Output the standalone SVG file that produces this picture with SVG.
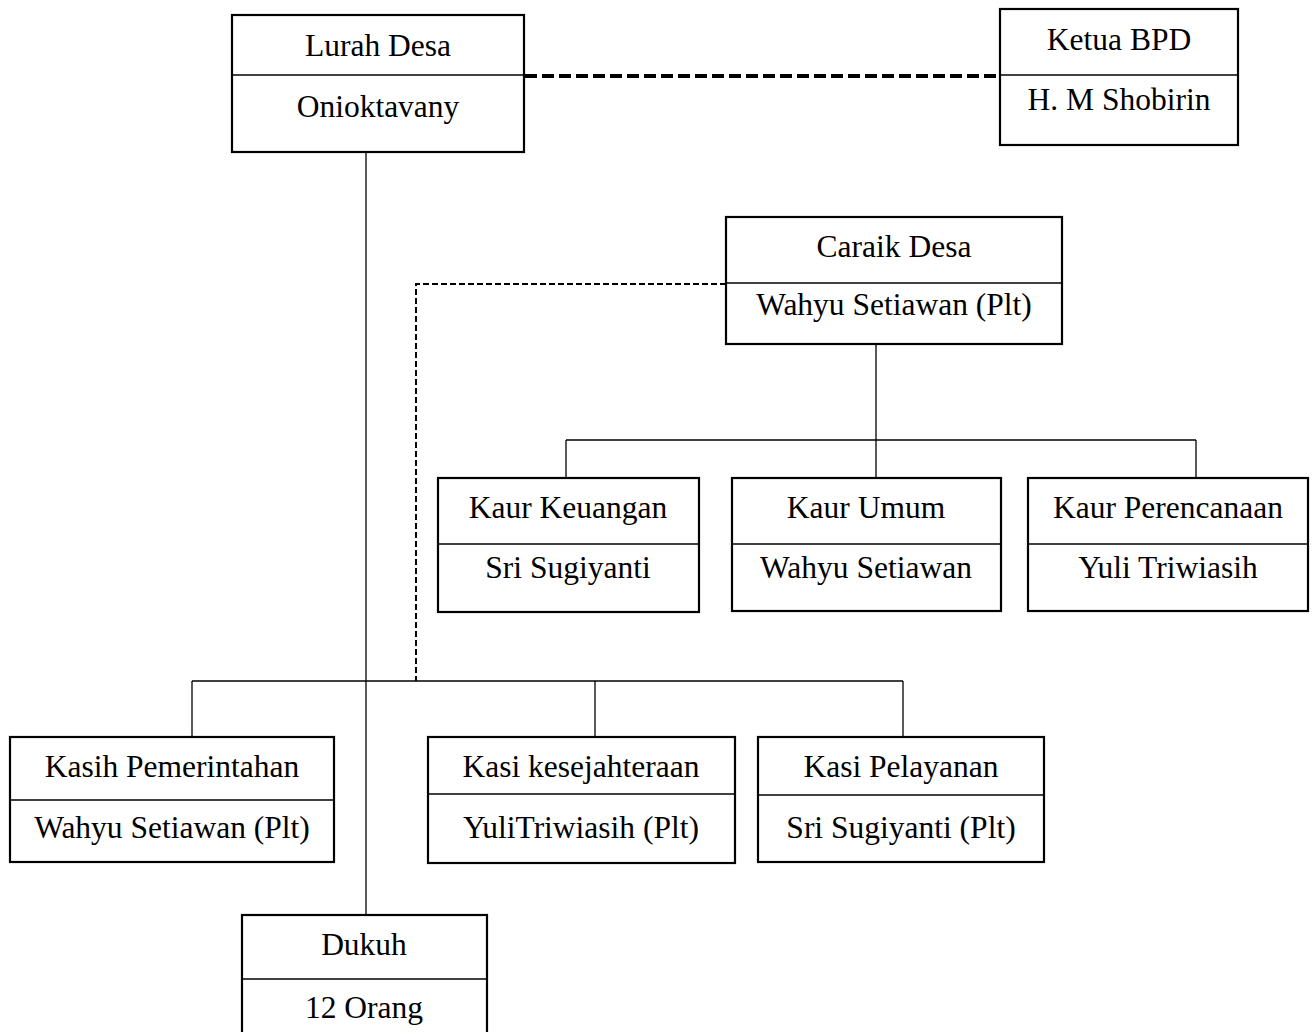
<svg xmlns="http://www.w3.org/2000/svg" width="1314" height="1032" viewBox="0 0 1314 1032">
<style>
.box{fill:#fff;stroke:#000;stroke-width:2.2}
.div{stroke:#000;stroke-width:1.3}
.t{font-family:"Liberation Serif","Times New Roman",serif;font-size:31.5px;fill:#000;text-anchor:middle}
.c{fill:none;stroke:#000;stroke-width:1.3}
.d1{fill:none;stroke:#000;stroke-width:4;stroke-dasharray:12 5}
.d2{fill:none;stroke:#000;stroke-width:2;stroke-dasharray:6 3}
</style>
<rect width="1314" height="1032" fill="#fff"/>
<g id="connectors">
<line class="d1" x1="525" y1="76" x2="999" y2="76"/>
<path class="d2" d="M726,284 H416 V681"/>
<line class="c" x1="366" y1="152" x2="366" y2="915"/>
<line class="c" x1="876" y1="344" x2="876" y2="440"/>
<line class="c" x1="566" y1="440" x2="1196" y2="440"/>
<line class="c" x1="566" y1="440" x2="566" y2="478"/>
<line class="c" x1="876" y1="440" x2="876" y2="478"/>
<line class="c" x1="1196" y1="440" x2="1196" y2="478"/>
<line class="c" x1="192" y1="681" x2="903" y2="681"/>
<line class="c" x1="192" y1="681" x2="192" y2="737"/>
<line class="c" x1="595" y1="681" x2="595" y2="737"/>
<line class="c" x1="903" y1="681" x2="903" y2="737"/>
</g>
<g id="lurah">
<rect class="box" x="232" y="15" width="292" height="137"/>
<line class="div" x1="232" y1="75" x2="524" y2="75"/>
<text class="t" x="378" y="56">Lurah Desa</text>
<text class="t" x="378" y="117">Onioktavany</text>
</g>
<g id="bpd">
<rect class="box" x="1000" y="9" width="238" height="136"/>
<line class="div" x1="1000" y1="75" x2="1238" y2="75"/>
<text class="t" x="1119" y="50">Ketua BPD</text>
<text class="t" x="1119" y="110">H. M Shobirin</text>
</g>
<g id="caraik">
<rect class="box" x="726" y="217" width="336" height="127"/>
<line class="div" x1="726" y1="283" x2="1062" y2="283"/>
<text class="t" x="894" y="257">Caraik Desa</text>
<text class="t" x="894" y="315">Wahyu Setiawan (Plt)</text>
</g>
<g id="kaur-keuangan">
<rect class="box" x="438" y="478" width="261" height="134"/>
<line class="div" x1="438" y1="544" x2="699" y2="544"/>
<text class="t" x="568" y="518">Kaur Keuangan</text>
<text class="t" x="568" y="578">Sri Sugiyanti</text>
</g>
<g id="kaur-umum">
<rect class="box" x="732" y="478" width="269" height="133"/>
<line class="div" x1="732" y1="544" x2="1001" y2="544"/>
<text class="t" x="866" y="518">Kaur Umum</text>
<text class="t" x="866" y="578">Wahyu Setiawan</text>
</g>
<g id="kaur-perencanaan">
<rect class="box" x="1028" y="478" width="280" height="133"/>
<line class="div" x1="1028" y1="544" x2="1308" y2="544"/>
<text class="t" x="1168" y="518">Kaur Perencanaan</text>
<text class="t" x="1168" y="578">Yuli Triwiasih</text>
</g>
<g id="kasih-pemerintahan">
<rect class="box" x="10" y="737" width="324" height="125"/>
<line class="div" x1="10" y1="800" x2="334" y2="800"/>
<text class="t" x="172" y="777">Kasih Pemerintahan</text>
<text class="t" x="172" y="838">Wahyu Setiawan (Plt)</text>
</g>
<g id="kasi-kesejahteraan">
<rect class="box" x="428" y="737" width="307" height="126"/>
<line class="div" x1="428" y1="794" x2="735" y2="794"/>
<text class="t" x="581" y="777">Kasi kesejahteraan</text>
<text class="t" x="581" y="838">YuliTriwiasih (Plt)</text>
</g>
<g id="kasi-pelayanan">
<rect class="box" x="758" y="737" width="286" height="125"/>
<line class="div" x1="758" y1="795" x2="1044" y2="795"/>
<text class="t" x="901" y="777">Kasi Pelayanan</text>
<text class="t" x="901" y="838">Sri Sugiyanti (Plt)</text>
</g>
<g id="dukuh">
<rect class="box" x="242" y="915" width="245" height="130"/>
<line class="div" x1="242" y1="979" x2="487" y2="979"/>
<text class="t" x="364" y="955">Dukuh</text>
<text class="t" x="364" y="1018">12 Orang</text>
</g>
</svg>
